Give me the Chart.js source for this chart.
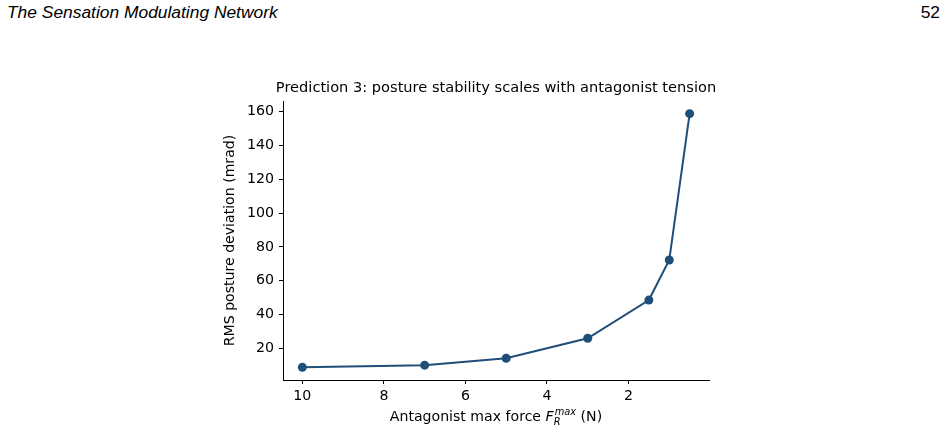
<!DOCTYPE html>
<html>
<head>
<meta charset="utf-8">
<script src="https://cdn.jsdelivr.net/npm/chart.js@4.4.1/dist/chart.umd.min.js"></script>
<style>
  html, body { margin: 0; padding: 0; background: #fff; }
  body { width: 945px; height: 448px; position: relative; overflow: hidden; }
  #hdrLeft { position: absolute; left: 7px; top: 2px; font-family: "Liberation Sans", sans-serif; font-style: italic; font-size: 17.4px; color: #000; white-space: nowrap; }
  #hdrRight { position: absolute; right: 5px; top: 2px; font-family: "Liberation Sans", sans-serif; font-size: 17.4px; color: #000; }
  #wrap { position: absolute; left: 0; top: 0; width: 945px; height: 448px; }
</style>
</head>
<body>
<div id="hdrLeft">The Sensation Modulating Network</div>
<div id="hdrRight">52</div>
<div id="wrap"><canvas id="c" width="945" height="448"></canvas></div>
<script>
// ---- data ----
const chartTitle = "Prediction 3: posture stability scales with antagonist tension";
const xAxisLabel = "Antagonist max force F_R^max (N)";
const yAxisLabel = "RMS posture deviation (mrad)";
const forceValues = [10, 7, 5, 3, 1.5, 1, 0.5];
const rmsDeviation = [8.7, 10.0, 14.1, 25.9, 48.5, 72.2, 158.8];
const xTickValues = [2, 4, 6, 8, 10];
const yTickValues = [20, 40, 60, 80, 100, 120, 140, 160];

const points = forceValues.map((x, i) => ({ x: x, y: rmsDeviation[i] }));
const lineColor = '#1f4e79';
const fontFamily = '"DejaVu Sans", sans-serif';
const titleFs = 14.6;
const tickFs = 14.2;
const labelFs = 14.1;

// Chart title (drawn without width compression) and rich x-axis title
const textPlugin = {
  id: 'richText',
  afterDraw(chart) {
    const ctx = chart.ctx;
    const cx = (chart.chartArea.left + chart.chartArea.right) / 2;
    ctx.save();
    ctx.fillStyle = '#000';
    ctx.textBaseline = 'middle';
    // chart title
    ctx.textAlign = 'center';
    ctx.font = titleFs + 'px ' + fontFamily;
    ctx.fillText(chartTitle, cx, 88);
    // x-axis title with F_R^max
    const cy = 417;
    const main = labelFs + 'px ' + fontFamily;
    const italic = 'italic ' + labelFs + 'px ' + fontFamily;
    const italicSmall = 'italic ' + (labelFs * 0.7) + 'px ' + fontFamily;
    const p0 = 'Antagonist max force ';
    ctx.font = main; const w0 = ctx.measureText(p0).width;
    ctx.font = italic; const wF = ctx.measureText('F').width;
    ctx.font = italicSmall; const wSup = ctx.measureText('max').width;
    ctx.font = main; const wEnd = ctx.measureText(' (N)').width;
    const total = w0 + wF + wSup + wEnd + 1;
    let x = cx - total / 2;
    ctx.textAlign = 'left';
    ctx.font = main; ctx.fillText(p0, x, cy); x += w0;
    ctx.font = italic; ctx.fillText('F', x, cy); x += wF;
    ctx.font = italicSmall; ctx.fillText('max', x + 1, cy - 5);
    ctx.fillText('R', x, cy + 5);
    x += wSup + 1;
    ctx.font = main; ctx.fillText(' (N)', x, cy);
    ctx.restore();
  }
};

new Chart(document.getElementById('c'), {
  type: 'line',
  data: {
    datasets: [{
      data: points,
      borderColor: lineColor,
      backgroundColor: lineColor,
      borderWidth: 2,
      pointRadius: 4.5,
      pointHoverRadius: 4.5,
      pointBorderWidth: 0,
      tension: 0,
      fill: false
    }]
  },
  options: {
    responsive: false,
    animation: false,
    events: [],
    layout: { padding: { left: 218, right: 236, top: 101, bottom: 19 } },
    plugins: {
      legend: { display: false },
      tooltip: { enabled: false },
      title: { display: false, text: chartTitle }
    },
    scales: {
      x: {
        type: 'linear',
        reverse: true,
        min: 0.025,
        max: 10.475,
        afterFit(s) { s.height = 49; },
        afterBuildTicks(s) { s.ticks = xTickValues.map(v => ({ value: v })); },
        grid: { display: true, drawOnChartArea: false, drawTicks: true, tickLength: 4, color: '#000', tickColor: '#000' },
        border: { display: true, color: '#000', width: 1 },
        ticks: { color: '#000', font: { family: fontFamily, size: tickFs }, padding: 4, maxRotation: 0 },
        title: { display: false, text: xAxisLabel }
      },
      y: {
        type: 'linear',
        min: 1.2,
        max: 166.3,
        afterFit(s) { s.width = 65; },
        afterBuildTicks(s) { s.ticks = yTickValues.map(v => ({ value: v })); },
        grid: { display: true, drawOnChartArea: false, drawTicks: true, tickLength: 4, color: '#000', tickColor: '#000' },
        border: { display: true, color: '#000', width: 1 },
        ticks: { color: '#000', font: { family: fontFamily, size: tickFs }, padding: 5 },
        title: { display: true, text: yAxisLabel, color: '#000', font: { family: fontFamily, size: labelFs }, padding: 4 }
      }
    }
  },
  plugins: [textPlugin]
});
</script>
</body>
</html>
